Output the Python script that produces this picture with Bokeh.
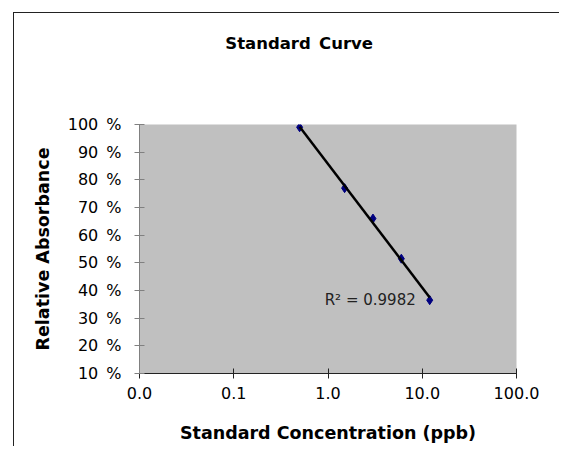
import numpy as np
from bokeh.plotting import figure
from bokeh.models import (FixedTicker, Label, ColumnDataSource, Range1d, InlineStyleSheet,
                          LinearAxis)
from bokeh.embed import file_html
from bokeh.resources import INLINE

# Data
concentration_ppb = [0.5, 1.5, 3.0, 6.0, 12.0]
relative_absorbance_pct = [99.0, 77.0, 66.0, 51.5, 36.5]
x_ticks = [0.01, 0.1, 1.0, 10.0, 100.0]
x_tick_labels = ["0.0", "0.1", "1.0", "10.0", "100.0"]
y_ticks = [10, 20, 30, 40, 50, 60, 70, 80, 90, 100]
y_tick_labels = [f"{t}\u2002%" for t in y_ticks]
title_text = "Standard\u2002Curve"
x_label = "Standard Concentration (ppb)"
y_label = "Relative Absorbance"
r2_text = "R\u00b2 = 0.9982"

FONT = "DejaVu Sans"

frame_css = InlineStyleSheet(css="""
:host(.chartframe) { position: relative; }
:host(.chartframe)::after {
  content: ""; position: absolute; left: 13px; top: 12px;
  width: calc(100% - 13px); height: calc(100% - 12px); box-sizing: border-box;
  border-left: 1.5px solid #222222; border-top: 1.5px solid #222222;
  pointer-events: none; z-index: 10;
}
""")

p = figure(width=559, height=446, x_axis_type="log",
           x_range=Range1d(0.01, 100), y_range=Range1d(10, 100),
           output_backend="svg", toolbar_location=None,
           min_border_left=139, min_border_right=43,
           min_border_top=124, min_border_bottom=73,
           stylesheets=[frame_css], css_classes=["chartframe"])
p.title.visible = False
p.background_fill_color = "#C0C0C0"
p.border_fill_color = "white"
p.outline_line_color = None
p.xgrid.visible = False
p.ygrid.visible = False

# title drawn as the label of an empty axis above the plot area
# (trailing em spaces shift its centre left, as in the original chart)
title_axis = LinearAxis(ticker=FixedTicker(ticks=[], minor_ticks=[]),
                        axis_label=title_text + "\u2003\u2003\u2003\u2002",
                        axis_line_color=None, major_tick_line_color=None,
                        minor_tick_line_color=None, major_tick_in=0, major_tick_out=0,
                        major_label_text_font_size="0px",
                        axis_label_standoff=72,
                        axis_label_text_font=FONT, axis_label_text_font_size="16.5px",
                        axis_label_text_font_style="bold", axis_label_text_color="black")
p.add_layout(title_axis, "above")

# axes
p.xaxis[0].ticker = FixedTicker(ticks=x_ticks, minor_ticks=[])
p.xaxis[0].major_label_overrides = {t: l for t, l in zip(x_ticks, x_tick_labels)}
p.yaxis.ticker = FixedTicker(ticks=y_ticks, minor_ticks=[])
p.yaxis.major_label_overrides = {t: l for t, l in zip(y_ticks, y_tick_labels)}
xax = p.below[0]
for ax, col in ((xax, "#222222"), (p.yaxis[0], "#808080")):
    ax.axis_line_color = col
    ax.major_tick_line_color = col
    ax.major_tick_in = 5
    ax.major_tick_out = 5
    ax.minor_tick_line_color = None
    ax.major_label_text_font = FONT
    ax.major_label_text_font_size = "16px"
    ax.major_label_text_color = "black"
    ax.axis_label_text_font = FONT
    ax.axis_label_text_font_size = "17.5px"
    ax.axis_label_text_font_style = "bold"
    ax.axis_label_text_color = "black"
xax.ticker = FixedTicker(ticks=x_ticks, minor_ticks=[])
xax.major_label_overrides = {t: l for t, l in zip(x_ticks, x_tick_labels)}
xax.major_label_standoff = 8
p.yaxis.major_label_standoff = 13
xax.axis_label = x_label
p.yaxis.axis_label = y_label
xax.axis_label_standoff = 21
p.yaxis.axis_label_standoff = 12

src = ColumnDataSource(dict(x=concentration_ppb, y=relative_absorbance_pct))
p.scatter("x", "y", source=src, marker="diamond", size=9,
          fill_color="#000080", line_color="#000080")

# logarithmic trendline fitted from the data
coef = np.polyfit(np.log(concentration_ppb), relative_absorbance_pct, 1)
xs = np.array([min(concentration_ppb), max(concentration_ppb)])
p.line(xs, coef[0] * np.log(xs) + coef[1], line_color="black", line_width=2.5)

p.add_layout(Label(x=concentration_ppb[-1], y=relative_absorbance_pct[-1], x_offset=-14,
                   text=r2_text, text_align="right", text_baseline="middle",
                   text_font=FONT, text_font_size="15px", text_color="#222222"))

open("out.html", "w").write(file_html(p, INLINE))
